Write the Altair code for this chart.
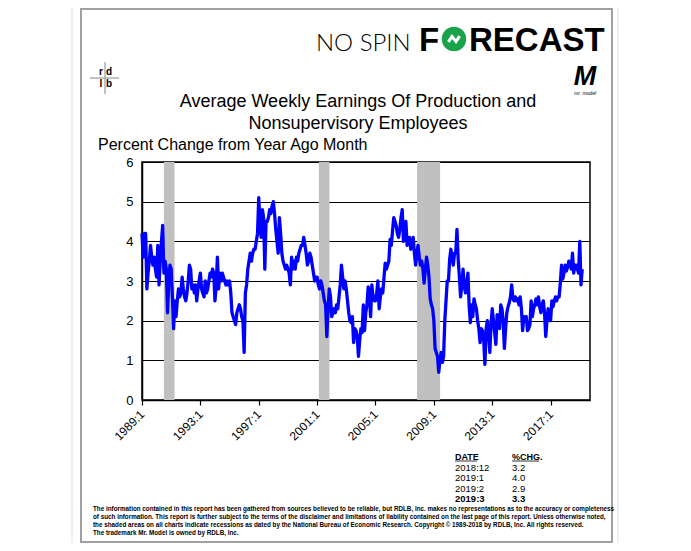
import altair as alt
import pandas as pd

FONT = "Liberation Sans"

# ---- data (percent change from year ago month), monthly from 1989:1 ----
values_by_year = {
    1989: [4.2, 3.6, 4.2, 4.2, 2.8, 3.2, 3.5, 3.9, 3.6, 3.4, 3.6, 3.3],
    1990: [3.1, 3.9, 2.9, 3.5, 4.0, 4.4, 3.2, 3.5, 3.3, 2.2, 3.0, 3.4],
    1991: [3.3, 2.6, 1.8, 2.5, 2.1, 2.5, 2.8, 2.6, 2.7, 3.1, 2.8, 2.6],
    1992: [2.5, 2.7, 3.0, 3.4, 3.3, 2.8, 2.9, 2.7, 2.9, 2.5, 2.8, 3.0],
    1993: [3.2, 2.8, 2.7, 2.6, 3.0, 2.7, 2.8, 3.0, 3.2, 3.1, 3.3, 3.2],
    1994: [2.5, 2.9, 3.6, 2.8, 3.2, 3.0, 3.2, 3.1, 3.0, 2.9, 3.0, 2.9],
    1995: [3.0, 2.7, 2.2, 2.1, 2.0, 1.9, 2.2, 2.3, 2.4, 2.3, 2.1, 2.0],
    1996: [1.2, 2.7, 2.9, 3.3, 3.5, 3.7, 3.5, 3.7, 3.8, 3.8, 4.0, 4.2],
    1997: [5.1, 4.4, 4.1, 4.8, 4.6, 3.3, 4.5, 4.5, 4.6, 4.8, 4.7, 4.9],
    1998: [5.0, 4.7, 4.3, 4.0, 3.7, 4.6, 4.2, 3.7, 3.5, 3.4, 3.3, 3.4],
    1999: [3.3, 3.2, 2.9, 3.6, 3.3, 3.5, 3.3, 3.6, 3.5, 3.7, 3.8, 3.9],
    2000: [3.9, 4.1, 3.9, 3.7, 3.4, 3.5, 3.7, 3.6, 3.4, 3.2, 3.0, 3.1],
    2001: [3.1, 2.9, 2.8, 3.0, 2.9, 2.7, 2.5, 2.4, 1.6, 2.3, 2.8, 2.6],
    2002: [2.1, 2.2, 2.3, 2.2, 2.4, 2.3, 2.6, 2.9, 3.4, 3.1, 2.8, 3.0],
    2003: [2.8, 2.5, 2.2, 2.0, 1.95, 2.1, 1.45, 1.8, 1.75, 1.6, 1.1, 1.5],
    2004: [1.8, 1.7, 2.4, 1.75, 2.2, 2.4, 2.85, 2.6, 2.1, 2.9, 2.6, 2.5],
    2005: [2.5, 2.7, 3.0, 2.3, 2.6, 2.8, 2.7, 3.1, 3.45, 3.3, 3.4, 3.5],
    2006: [4.05, 3.9, 4.25, 4.6, 4.5, 4.4, 4.2, 4.1, 4.3, 4.6, 4.8, 4.0],
    2007: [4.3, 4.5, 3.9, 4.0, 4.1, 3.8, 3.9, 4.1, 3.7, 3.4, 3.7, 3.9],
    2008: [3.6, 3.4, 3.5, 3.3, 2.95, 3.3, 3.6, 3.4, 3.1, 2.55, 2.4, 2.3],
    2009: [2.0, 1.3, 1.2, 1.1, 0.7, 1.0, 1.2, 0.95, 1.1, 2.0, 2.5, 3.0],
    2010: [3.0, 3.55, 3.8, 3.6, 3.4, 3.7, 3.7, 4.3, 3.55, 3.1, 2.6, 2.9],
    2011: [3.3, 2.9, 2.7, 2.9, 3.2, 2.4, 1.95, 2.4, 2.1, 2.55, 2.4, 2.3],
    2012: [2.0, 1.8, 1.45, 1.8, 1.75, 1.5, 0.9, 1.8, 2.0, 1.7, 1.2, 1.9],
    2013: [2.3, 2.0, 1.7, 1.4, 2.15, 2.0, 1.8, 2.4, 2.3, 2.0, 1.3, 1.8],
    2014: [2.2, 2.35, 2.45, 2.6, 2.9, 2.55, 2.5, 2.6, 2.5, 2.55, 2.4, 2.6],
    2015: [2.3, 1.75, 2.1, 2.0, 2.1, 1.75, 1.8, 1.9, 2.5, 2.1, 2.3, 2.4],
    2016: [2.55, 2.4, 2.6, 2.35, 2.2, 2.4, 2.5, 2.2, 1.6, 2.0, 2.3, 2.1],
    2017: [2.0, 2.5, 2.35, 2.5, 2.6, 2.5, 2.6, 2.6, 2.95, 3.4, 3.05, 3.2],
    2018: [3.4, 3.25, 3.35, 3.5, 3.4, 3.3, 3.7, 3.2, 3.4, 3.4, 3.3, 3.2],
    2019: [4.0, 2.9, 3.3],
}

recession_start = [1990.5, 2001.12, 2007.85]
recession_end = [1991.23, 2001.85, 2009.43]

tick_years = [1989, 1993, 1997, 2001, 2005, 2009, 2013, 2017]

table_dates = ["2018:12", "2019:1", "2019:2", "2019:3"]
table_chg = ["3.2", "4.0", "2.9", "3.3"]

disclaimer = [
    "The information contained in this report has been gathered from sources believed to be reliable, but RDLB, Inc. makes no representations as to the accuracy or completeness",
    "of such information. This report is further subject to the terms of the disclaimer and limitations of liability contained on the last page of this report.  Unless otherwise noted,",
    "the shaded areas on all charts indicate recessions as dated by the National Bureau of Economic Research. Copyright \u00a9 1989-2018  by RDLB, Inc.  All rights reserved.",
    "The trademark Mr. Model is owned by RDLB, Inc.",
]

# ---- build tables ----
rows = []
for yr, vals in values_by_year.items():
    for m, v in enumerate(vals):
        rows.append({"t": yr + m / 12.0, "v": v})
series = pd.DataFrame(rows)
rec = pd.DataFrame({"s": recession_start, "e": recession_end})

W, H = 448, 238
OX, OY = 142, 162  # page position of plot origin

xscale = alt.Scale(domain=[1989, 2019.7], nice=False, zero=False)
yscale = alt.Scale(domain=[0, 6], nice=False)

dummy = alt.Data(values=[{"a": 1}])


def txt(text, x, y, size, weight="normal", align="left", font=FONT, style="normal", color="black"):
    return alt.Chart(dummy).mark_text(
        text=text, fontSize=size, fontWeight=weight, align=align, baseline="alphabetic",
        font=font, fontStyle=style, color=color,
    ).encode(x=alt.value(x - OX), y=alt.value(y - OY))


def rule(x1, y1, x2, y2, color="black", width=1.0):
    return alt.Chart(dummy).mark_rule(color=color, strokeWidth=width).encode(
        x=alt.value(x1 - OX), x2=alt.value(x2 - OX), y=alt.value(y1 - OY), y2=alt.value(y2 - OY)
    )


def box(x1, y1, x2, y2, color, width):
    return alt.Chart(dummy).mark_rect(fill=None, fillOpacity=0, stroke=color, strokeWidth=width).encode(
        x=alt.value(x1 - OX), x2=alt.value(x2 - OX), y=alt.value(y1 - OY), y2=alt.value(y2 - OY)
    )


bars = alt.Chart(rec).mark_rect(color="#c0c0c0").encode(
    x=alt.X("s:Q", scale=xscale,
            axis=alt.Axis(values=tick_years, labelExpr="datum.value + ':1'", labelAngle=-45,
                          labelAlign="right", labelBaseline="middle", labelFontSize=12,
                          labelFont=FONT, labelColor="black", labelPadding=7, tickSize=5,
                          tickColor="black", tickWidth=1.2, domainColor="black", domainWidth=1.5,
                          grid=False, title=None)),
    x2="e:Q",
    y=alt.value(0),
    y2=alt.value(H),
)

line = alt.Chart(series).mark_line(color="#0000ff", strokeWidth=3.3, strokeJoin="round").encode(
    x=alt.X("t:Q", scale=xscale),
    y=alt.Y("v:Q", scale=yscale,
            axis=alt.Axis(values=[0, 1, 2, 3, 4, 5, 6], grid=True, gridColor="black", gridWidth=1.2,
                          ticks=False, domainColor="black", domainWidth=1.5, labelFontSize=13,
                          labelFont=FONT, labelColor="black", labelPadding=9, title=None)),
)

layers = [
    box(72, 1, 618, 549, "#dddddd", 1),
    box(81, 9, 612, 542, "#a0a0a0", 2),
    bars,
    line,
    # header logo
    txt("NO SPIN", 316, 51, 24, weight=300, font="Lato"),
    txt("F", 419, 51, 33, weight="bold"),
    alt.Chart(dummy).mark_point(filled=True, color="#1aa34a", opacity=1, size=600, shape="circle").encode(
        x=alt.value(454 - OX), y=alt.value(39 - OY)),
    alt.Chart(dummy).mark_point(filled=False, color="white", opacity=1, size=260, strokeWidth=3,
                                shape="M -0.7 0.35 L -0.25 -0.3 L 0.25 0.3 L 0.7 -0.35").encode(
        x=alt.value(454 - OX), y=alt.value(39 - OY)),
    txt("RECAST", 469, 51, 33, weight="bold"),
    # rdlb logo
    rule(90, 78, 119, 78, color="#999999", width=1.2),
    rule(105, 62, 105, 94, color="#999999", width=1.2),
    txt("r", 101, 75, 10, weight="bold", align="center"),
    txt("d", 109, 75, 10, weight="bold", align="center"),
    txt("l", 101, 87, 10, weight="bold", align="center"),
    txt("b", 109, 87, 10, weight="bold", align="center"),
    # Mr. Model logo
    txt("M", 585, 85, 27, weight="bold", align="center", style="italic"),
    txt("mr. model", 585, 95, 5, align="center", style="italic"),
    # titles
    txt("Average Weekly Earnings Of Production and", 358, 107, 18, align="center"),
    txt("Nonsupervisory Employees", 358, 129, 18, align="center"),
    txt("Percent Change from Year Ago Month", 98, 150, 16),
    # table
    txt("DATE", 455, 460, 9, weight="bold"),
    txt("%CHG.", 512, 460, 9, weight="bold"),
    rule(455, 461, 477, 461, width=0.8),
    rule(512, 461, 539, 461, width=0.8),
]
for i, (d, c) in enumerate(zip(table_dates, table_chg)):
    w = "bold" if i == len(table_dates) - 1 else "normal"
    layers.append(txt(d, 455, 471 + 10.3 * i, 9.5, weight=w))
    layers.append(txt(c, 512, 471 + 10.3 * i, 9.5, weight=w))
for i, s in enumerate(disclaimer):
    layers.append(txt(s, 93, 511 + 8 * i, 6.3, weight="bold", font=FONT))

chart = alt.layer(*layers).properties(
    width=W, height=H,
    padding={"left": OX - 8, "top": OY - 8, "right": 93, "bottom": 143},
    autosize=alt.AutoSizeParams(type="none"),
    background="white",
).configure_view(stroke="black", strokeWidth=1.5)

chart.save("out.html", embed_options={"renderer": "svg", "actions": False})
